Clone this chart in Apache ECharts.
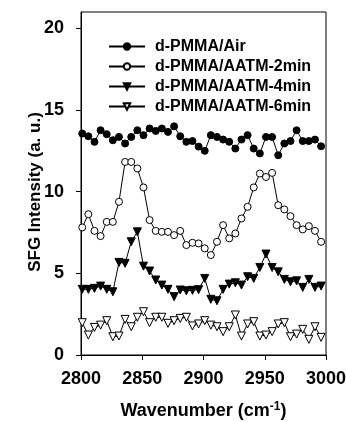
<!DOCTYPE html>
<html>
<head>
<meta charset="utf-8">
<script src="https://cdn.jsdelivr.net/npm/echarts@6/dist/echarts.min.js"></script>
<style>html,body{margin:0;padding:0;background:#fff;}#c{width:346px;height:422px;}</style>
</head>
<body>
<div id="c"></div>
<script>
var wavenumbers = [];
for (var i = 0; i < 40; i++) wavenumbers.push(2801 + 5 * i);

var airValues = [13.56,13.39,13.05,13.76,13.52,13.15,13.35,12.95,13.35,13.76,
  13.46,13.87,13.72,13.87,13.66,14.0,13.39,13.05,13.1,12.76,
  12.5,13.46,13.35,13.19,13.05,12.64,13.19,13.46,12.64,12.34,
  13.35,13.35,12.23,12.95,13.1,13.76,13.1,13.1,13.19,12.78];
var aatm2Values = [7.81,8.62,7.6,7.28,8.15,8.15,9.38,11.82,11.82,11.42,
  10.26,8.26,7.6,7.54,7.54,7.34,7.6,6.73,6.87,6.83,
  6.53,6.12,6.93,7.95,7.14,7.44,8.36,9.07,10.26,11.11,
  10.9,11.15,9.17,8.91,8.5,7.95,7.69,7.89,7.6,6.93];
var aatm4Values = [4.02,4.02,4.08,4.22,4.02,3.87,5.67,5.61,6.93,7.54,
  5.44,5.14,4.59,4.28,4.02,3.57,3.98,3.93,3.96,4.0,
  4.69,3.41,3.32,4.02,4.34,4.42,4.28,4.79,4.69,5.36,
  6.18,5.36,5.09,4.63,4.48,4.54,4.14,4.63,4.14,4.22];
var aatm6Values = [1.98,1.22,1.69,1.83,2.1,1.12,1.16,2.18,1.73,2.31,
  2.65,1.98,2.31,2.31,1.94,2.1,2.24,2.31,1.78,1.9,
  2.1,1.83,1.73,1.43,1.73,2.45,1.16,1.9,2.04,1.16,
  1.22,1.43,1.9,1.98,1.12,1.28,1.57,0.96,1.73,1.08];

var seriesNames = ['d-PMMA/Air','d-PMMA/AATM-2min','d-PMMA/AATM-4min','d-PMMA/AATM-6min'];
var xTicks = [2800, 2850, 2900, 2950, 3000];
var yTicks = [0, 5, 10, 15, 20];

function pairs(vals) { return vals.map(function (v, i) { return [wavenumbers[i], v]; }); }

var FONT = '"Liberation Sans", Arial, sans-serif';
var chart = echarts.init(document.getElementById('c'), null, {renderer: 'canvas'});

function mk(name, vals, symbol, filled, rot) {
  return {
    name: name, type: 'line', data: pairs(vals),
    symbol: symbol, symbolSize: symbol === 'circle' ? 7 : 8, symbolRotate: rot || 0,
    showAllSymbol: true,
    lineStyle: {color: '#000', width: 1},
    itemStyle: {color: filled ? '#000' : '#fff', borderColor: '#000', borderWidth: 1},
    emphasis: {disabled: true},
    animation: false
  };
}

chart.setOption({
  animation: false,
  backgroundColor: '#fff',
  grid: {left: 81, right: 20, top: 12, bottom: 67, show: true, borderColor: '#000', borderWidth: 1,
    backgroundColor: 'transparent', containLabel: false, outerBoundsMode: 'none'},
  legend: {
    orient: 'vertical', left: 103, top: 33, itemWidth: 36, itemHeight: 8, itemGap: 3,
    data: seriesNames,
    textStyle: {fontFamily: FONT, fontWeight: 'bold', fontSize: 16, lineHeight: 17, color: '#000', padding: [0,0,0,5]},
    inactiveColor: '#000'
  },
  xAxis: {
    type: 'value', min: 2800, max: 3000, interval: 50,
    splitLine: {show: false},
    axisLine: {lineStyle: {color: '#000', width: 1}},
    axisTick: {show: true, inside: false, length: 5, lineStyle: {color: '#000'}, customValues: xTicks},
    axisLabel: {fontFamily: FONT, fontWeight: 'bold', fontSize: 18, color: '#000', margin: 15, customValues: xTicks,
      formatter: function (v) { return String(v); }},
    name: '{a|Wavenumber (cm}{s|-1}{a|)}',
    nameLocation: 'middle', nameGap: 46,
    nameTextStyle: {rich: {
      a: {fontFamily: FONT, fontWeight: 'bold', fontSize: 18, color: '#000'},
      s: {fontFamily: FONT, fontWeight: 'bold', fontSize: 12, color: '#000', verticalAlign: 'top', padding: [0,0,8,0]}
    }}
  },
  yAxis: {
    type: 'value', min: 0, max: 21, interval: 5,
    splitLine: {show: false},
    axisLine: {show: true, lineStyle: {color: '#000', width: 1}},
    axisTick: {show: true, inside: false, length: 5, lineStyle: {color: '#000'}, customValues: yTicks},
    axisLabel: {fontFamily: FONT, fontWeight: 'bold', fontSize: 18, color: '#000', margin: 17, customValues: yTicks}
  },
  graphic: [{
    type: 'text', x: 35, y: 192, rotation: Math.PI / 2,
    style: {text: 'SFG Intensity (a. u.)', font: 'bold 17px ' + FONT, fill: '#000', textAlign: 'center', textVerticalAlign: 'middle'}
  }],
  series: [
    mk(seriesNames[0], airValues, 'circle', true),
    mk(seriesNames[1], aatm2Values, 'circle', false),
    mk(seriesNames[2], aatm4Values, 'triangle', true, 180),
    mk(seriesNames[3], aatm6Values, 'triangle', false, 180)
  ]
});
</script>
</body>
</html>
